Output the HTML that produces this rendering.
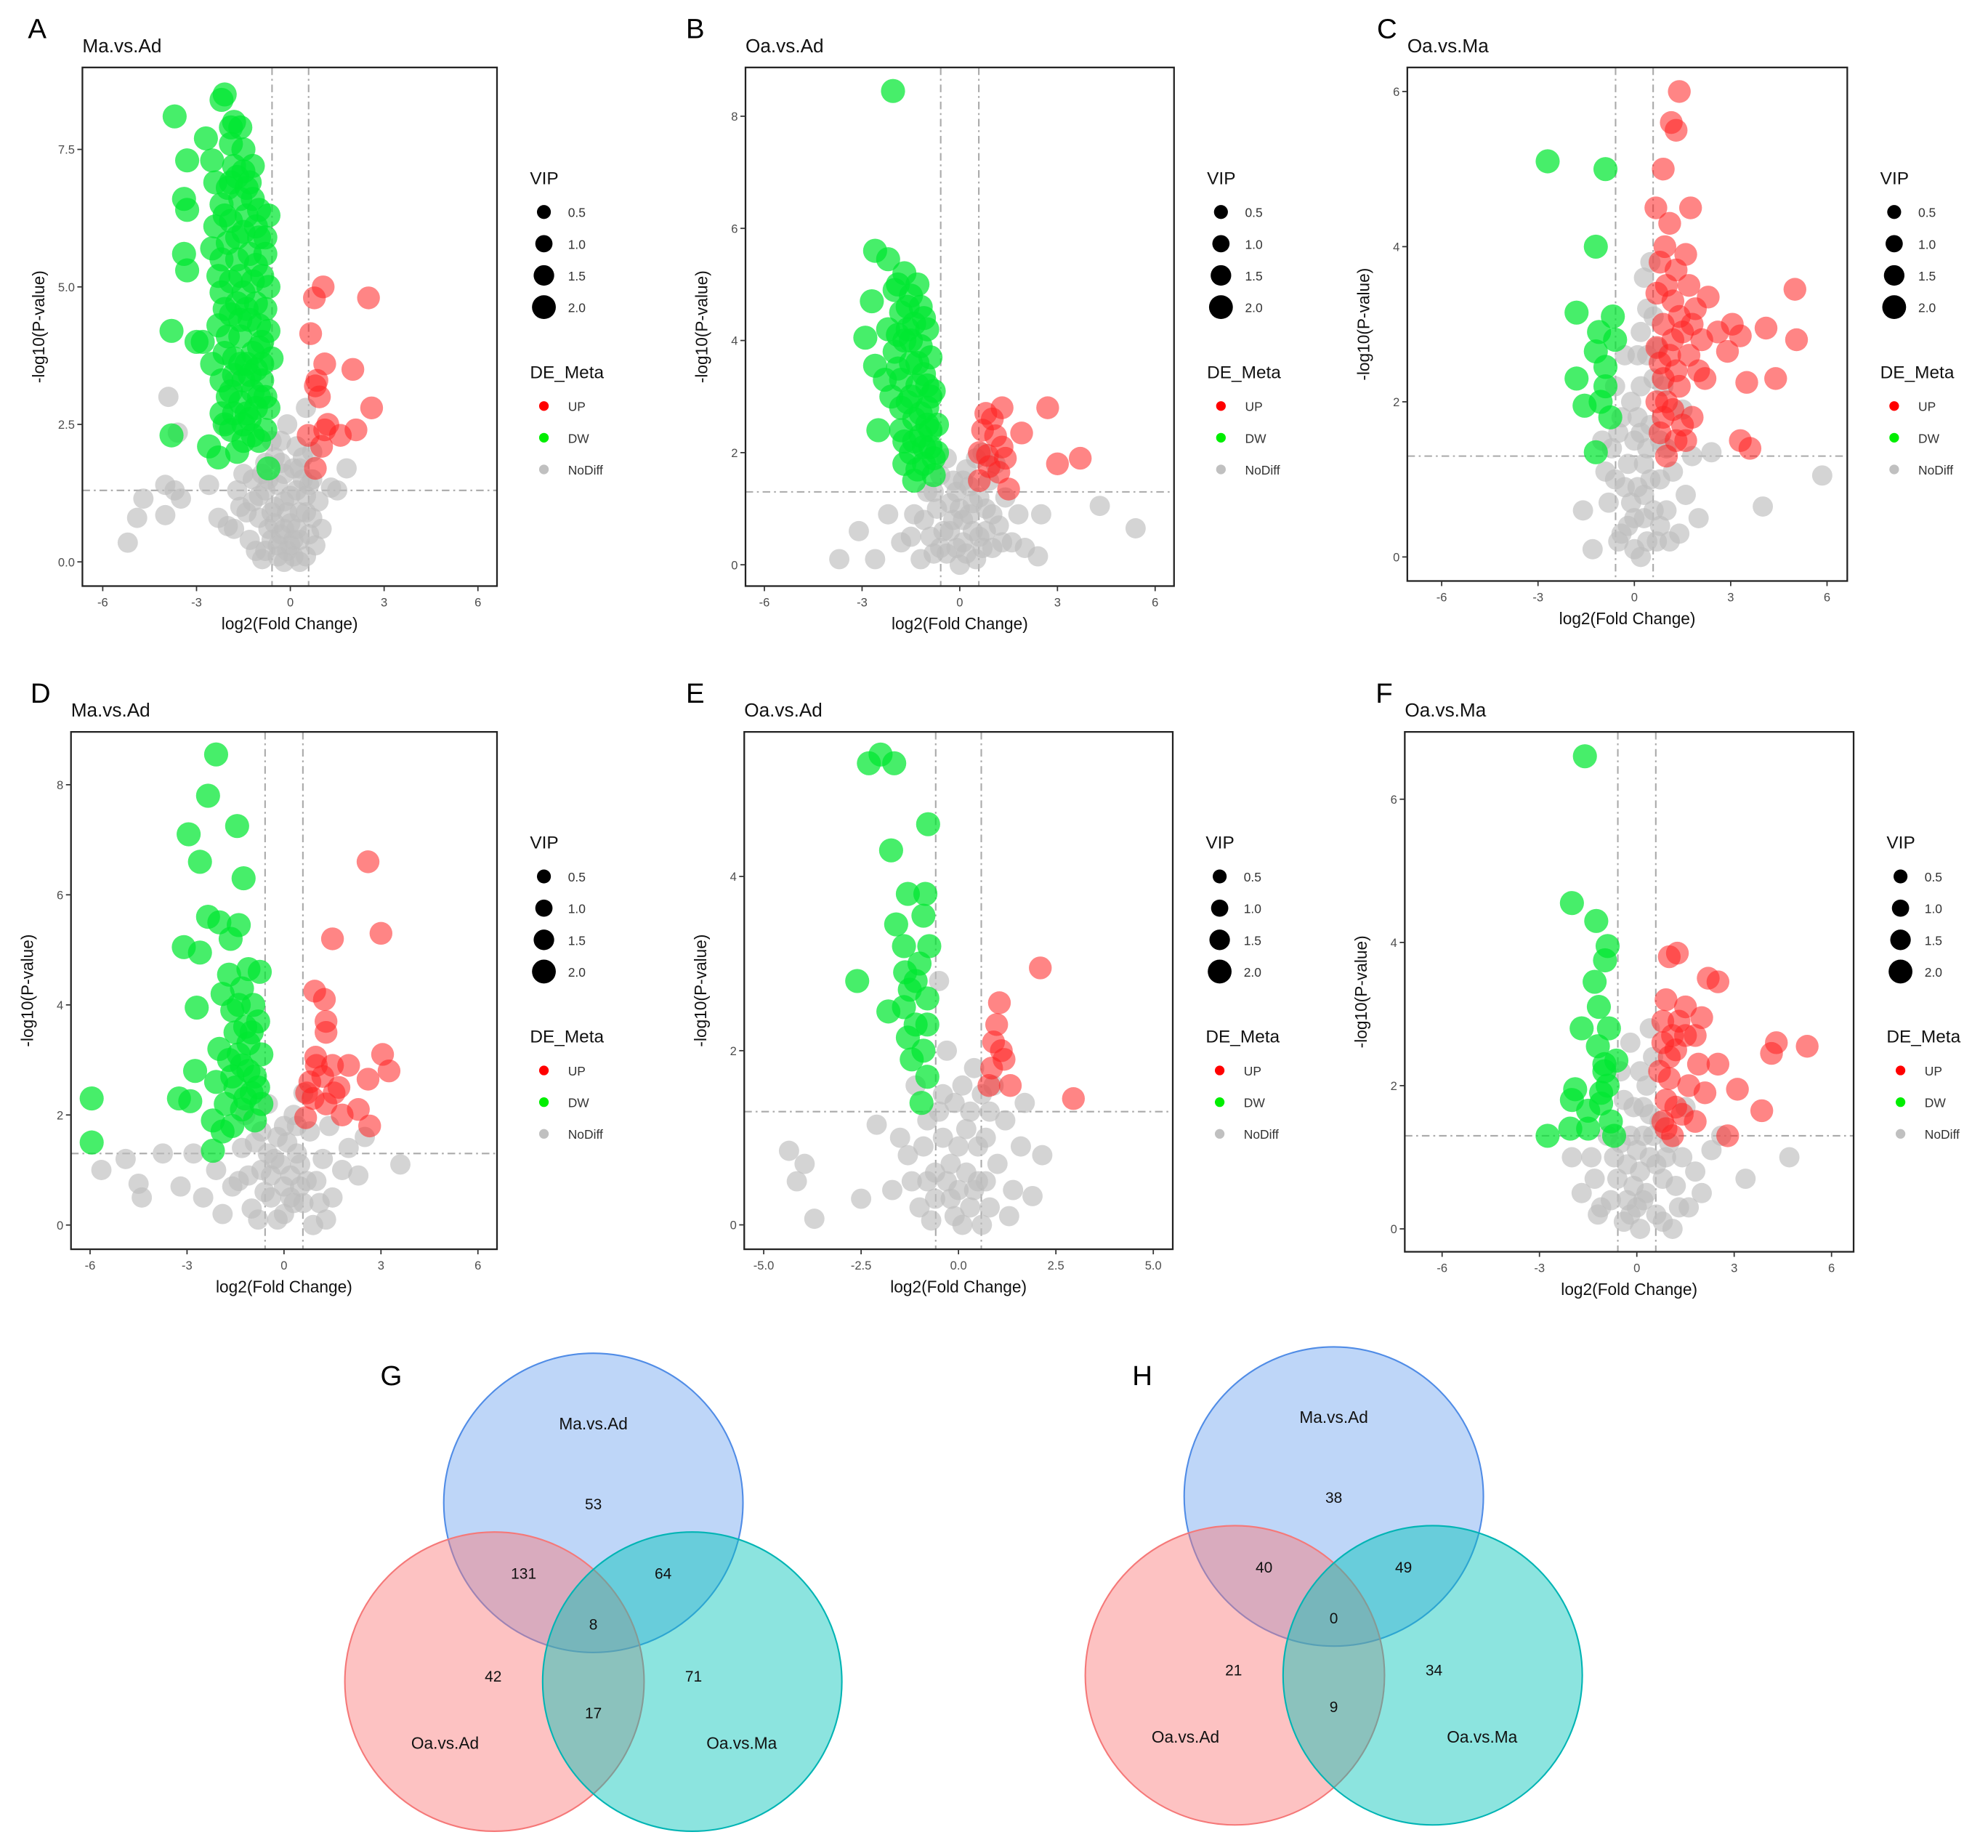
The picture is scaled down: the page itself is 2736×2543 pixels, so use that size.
<!DOCTYPE html>
<html><head><meta charset="utf-8">
<style>
html,body{margin:0;padding:0;background:#fff;}
svg{display:block;font-family:"Liberation Sans",Arial,sans-serif;}
</style></head>
<body>
<svg id="fig" width="2736" height="2543" viewBox="0 0 1568 1457" xmlns="http://www.w3.org/2000/svg"></svg>
<script>
// ---------- DATA ----------
const A_dw=[[-2.1,8.5],[-2.2,8.4],[-3.7,8.1],[-1.8,8.0],[-1.6,7.9],[-2.7,7.7],[-1.9,7.6],[-1.5,7.5],[-2.5,7.3],[-3.3,7.3],[-1.7,7.0],[-2.4,6.9],[-1.4,6.8],[-3.4,6.6],[-3.3,6.4],[-2.2,6.5],[-1.2,6.6],[-0.7,6.3],[-1.9,6.2],[-1.5,6.0],[-1.0,5.9],[-2.0,5.8],[-1.3,5.6],[-3.4,5.6],[-3.3,5.3],[-2.5,5.7],[-1.7,5.5],[-0.9,5.2],[-0.7,5.0],[-2.2,4.9],[-1.5,4.9],[-1.1,4.7],[-0.8,4.6],[-1.9,4.5],[-1.3,4.4],[-2.3,4.3],[-0.7,4.2],[-3.8,4.2],[-3.0,4.0],[-2.8,4.0],[-1.6,4.1],[-1.0,3.9],[-2.1,3.8],[-0.6,3.7],[-1.4,3.6],[-2.5,3.6],[-1.8,3.4],[-0.9,3.3],[-1.2,3.1],[-2.0,3.0],[-1.6,2.9],[-0.7,2.8],[-2.2,2.7],[-1.3,2.6],[-3.8,2.3],[-1.9,2.4],[-0.8,2.4],[-1.5,2.2],[-2.3,1.9],[-1.7,2.0],[-0.7,1.7],[-1.2,2.3],[-2.6,2.1],[-1.8,7.2],[-1.4,6.3],[-2.0,6.8],[-1.1,5.4],[-1.7,4.7],[-2.3,5.2],[-0.9,4.0],[-1.5,3.3],[-2.4,6.1],[-1.2,7.2],[-1.0,6.4],[-0.8,5.6],[-1.6,5.2],[-2.0,4.1],[-1.1,3.5],[-1.9,3.1],[-1.4,2.7],[-0.8,3.0],[-2.1,2.5],[-1.6,6.6],[-1.3,6.9],[-1.9,6.9],[-1.1,6.1],[-1.7,5.9],[-1.2,5.1],[-1.9,5.1],[-1.4,4.6],[-1.0,4.3],[-1.6,4.4],[-1.2,3.8],[-1.8,3.7],[-1.3,3.4],[-1.0,3.0],[-1.6,3.6],[-1.1,2.8],[-1.8,2.7],[-1.0,2.2],[-2.2,3.3],[-2.1,4.6],[-2.2,5.5],[-2.1,6.3],[-1.5,7.1],[-1.9,7.9],[-0.8,5.9],[-0.9,3.6],[-1.5,2.5]];
const A_up=[[1.05,5.0],[0.77,4.8],[2.5,4.8],[0.65,4.15],[1.1,3.6],[2.0,3.5],[0.85,3.3],[0.93,3.0],[0.8,3.2],[2.6,2.8],[1.2,2.5],[2.1,2.4],[0.57,2.3],[1.6,2.3],[1.1,2.4],[1.0,2.1],[0.8,1.7]];
const A_nd=[[-5.2,0.35],[-4.9,0.8],[-4.7,1.15],[-4.0,0.85],[-4.0,1.4],[-3.7,1.3],[-3.5,1.15],[-3.9,3.0],[-3.6,2.35],[-2.6,1.4],[-2.3,0.8],[-2.0,0.65],[-1.8,0.6],[1.8,1.7],[1.5,1.3],[1.3,1.35],[0.5,2.8],[0.7,0.8],[-0.6,2.2],[-1.2,1.5],[-1.0,1.2],[-0.8,1.8],[-0.5,1.0],[-0.3,0.5],[-0.1,0.2],[0.1,0.1],[0.3,0.4],[0.5,0.9],[0.6,1.4],[0.4,1.9],[0.2,2.1],[-0.2,1.6],[-0.4,0.3],[-0.7,0.6],[-1.1,0.2],[-1.4,0.9],[0.8,0.3],[0.9,1.1],[-0.9,0.05],[0.0,0.7],[-0.2,1.1],[0.2,1.3],[-0.5,1.9],[0.3,0.0],[-1.6,1.0],[-1.3,0.4],[0.7,2.0],[-0.1,2.5],[1.0,0.6],[-0.6,0.9],[0.1,1.7],[0.5,0.1],[-0.3,2.2],[-2.1,2.5],[-1.8,3.3],[-0.8,1.3],[-0.6,0.4],[-0.4,1.4],[-0.2,0.6],[0.0,1.2],[0.1,0.4],[0.3,0.9],[0.4,1.5],[-0.5,0.7],[-0.3,1.8],[-1.0,0.8],[-0.8,0.2],[-0.1,0.9],[0.2,0.6],[0.6,0.5],[-1.2,1.1],[-0.7,1.5],[0.0,0.3],[-0.4,0.1],[0.5,1.2],[-0.9,1.6],[-1.5,1.6],[-1.7,1.3],[-0.2,0.0],[0.7,1.5],[0.3,1.7]];

const B_dw=[[-2.05,8.45],[-2.6,5.6],[-2.2,5.45],[-1.7,5.2],[-2.7,4.7],[-2.9,4.05],[-2.6,3.55],[-2.5,2.4],[-2.0,4.9],[-1.5,4.8],[-1.2,4.6],[-1.8,4.5],[-1.4,4.3],[-1.0,4.2],[-2.2,4.2],[-1.7,4.0],[-1.2,3.9],[-0.9,3.7],[-2.0,3.8],[-1.5,3.6],[-1.1,3.4],[-1.8,3.3],[-1.3,3.2],[-0.8,3.1],[-2.1,3.0],[-1.6,2.9],[-1.0,2.8],[-1.4,2.6],[-0.7,2.5],[-1.8,2.4],[-1.2,2.3],[-0.9,2.1],[-1.5,2.0],[-1.1,1.8],[-0.8,1.6],[-1.3,1.7],[-1.6,4.6],[-1.9,5.0],[-1.3,5.0],[-2.3,3.3],[-1.0,2.5],[-1.7,2.2],[-0.7,2.0],[-1.4,1.5],[-1.6,4.2],[-1.3,3.6],[-1.9,3.5],[-1.0,3.2],[-1.5,3.0],[-1.2,2.7],[-1.8,2.8],[-0.9,2.4],[-1.4,2.2],[-1.1,2.1],[-1.7,1.8],[-0.8,1.9],[-1.9,4.1],[-1.5,4.0],[-1.1,4.4],[-0.9,3.0]];
const B_up=[[1.0,2.6],[2.7,2.8],[1.9,2.35],[3.0,1.8],[3.7,1.9],[0.7,2.4],[1.3,2.1],[0.85,1.95],[1.2,1.65],[1.5,1.35],[0.6,1.5],[0.9,1.75],[0.6,2.0],[1.1,2.3],[1.4,1.9],[0.8,2.7],[1.3,2.8]];
const B_nd=[[-3.7,0.1],[-3.1,0.6],[-2.6,0.1],[4.3,1.05],[5.4,0.65],[2.4,0.15],[-2.2,0.9],[2.5,0.9],[-1.8,0.4],[-1.4,0.9],[-1.0,1.3],[-0.8,0.2],[-0.5,0.6],[-0.3,1.1],[-0.1,0.3],[0.1,0.8],[0.3,1.4],[0.5,0.1],[0.6,0.5],[0.8,1.0],[1.0,0.3],[1.2,0.7],[1.4,1.2],[1.6,0.4],[-0.6,1.6],[0.2,1.7],[0.5,1.9],[-1.2,0.1],[0.0,0.0],[-0.2,0.8],[0.9,1.5],[1.8,0.9],[-0.9,0.5],[0.4,0.6],[-0.4,1.9],[1.1,1.8],[-1.5,0.5],[2.0,0.3],[0.7,2.0],[-0.7,1.0],[-0.4,0.2],[-0.1,1.3],[0.1,0.4],[0.3,0.9],[0.6,1.2],[0.8,0.6],[-0.3,0.6],[0.0,1.0],[0.2,0.2],[-0.6,0.3],[0.4,1.1],[1.0,0.9],[-1.1,0.8],[0.7,0.3],[-0.2,1.5],[1.3,0.4],[-0.8,1.3],[0.1,1.5]];

const C_dw=[[-2.7,5.1],[-0.9,5.0],[-1.2,4.0],[-1.8,3.15],[-0.67,3.1],[-1.1,2.9],[-1.2,2.65],[-1.8,2.3],[-0.9,2.45],[-1.55,1.95],[-0.9,2.2],[-1.2,1.35],[-0.75,1.8],[-1.05,2.0],[-0.6,2.8]];
const C_up=[[1.4,6.0],[1.15,5.6],[1.3,5.5],[0.9,5.0],[1.75,4.5],[0.67,4.5],[1.1,4.3],[0.95,4.0],[5.0,3.45],[2.3,3.35],[3.05,3.0],[4.1,2.95],[3.3,2.85],[5.05,2.8],[2.9,2.65],[4.4,2.3],[3.5,2.25],[2.2,2.3],[3.3,1.5],[3.6,1.4],[0.8,3.8],[1.3,3.7],[1.7,3.5],[0.7,3.4],[1.2,3.3],[1.9,3.2],[0.9,3.0],[1.5,2.9],[2.1,2.8],[0.7,2.7],[1.1,2.6],[1.7,2.6],[0.9,2.3],[1.4,2.2],[0.7,2.0],[1.2,1.9],[1.8,1.8],[0.8,1.6],[1.3,1.5],[2.6,2.9],[1.6,3.9],[2.0,2.4],[1.0,1.3],[1.6,1.5],[1.0,3.5],[1.4,3.1],[0.8,2.5],[1.3,2.4],[1.0,2.0],[1.5,1.7],[0.9,1.8],[1.2,2.8],[1.8,3.0]];
const C_nd=[[5.85,1.05],[4.0,0.65],[-1.3,0.1],[2.4,1.35],[-1.0,1.5],[-0.8,0.7],[-0.6,2.2],[-0.4,0.3],[-0.2,1.2],[0.0,0.1],[0.1,1.8],[0.3,0.5],[0.4,2.6],[0.5,1.0],[0.6,3.1],[0.7,0.2],[0.8,1.5],[0.9,2.2],[1.0,0.6],[1.2,1.1],[1.4,0.3],[1.6,0.8],[1.8,1.3],[-0.5,1.6],[0.2,2.9],[0.3,3.6],[0.5,3.8],[-0.1,0.7],[0.2,0.0],[1.1,0.2],[-0.3,2.6],[0.4,1.4],[2.0,0.5],[-1.6,0.6],[0.7,2.7],[-0.9,1.1],[1.5,1.9],[-0.6,1.0],[-0.4,1.8],[-0.2,0.4],[0.0,1.5],[0.1,0.9],[0.2,2.2],[0.3,1.2],[0.4,0.2],[0.5,1.7],[0.6,0.6],[0.8,1.0],[-0.1,2.0],[0.0,0.5],[0.2,1.6],[-0.3,0.9],[0.6,2.3],[0.4,3.2],[0.1,2.6],[-0.5,0.2],[1.0,1.4],[0.3,0.8],[-0.7,1.4],[0.8,0.4]];

const D_dw=[[-2.1,8.55],[-2.35,7.8],[-1.45,7.25],[-2.95,7.1],[-2.6,6.6],[-1.25,6.3],[-2.35,5.6],[-2.0,5.5],[-1.4,5.45],[-3.1,5.05],[-2.6,4.95],[-1.65,5.2],[-1.7,4.55],[-1.1,4.65],[-0.75,4.6],[-2.7,3.95],[-1.6,3.9],[-0.95,4.0],[-2.75,2.8],[-3.25,2.3],[-2.9,2.25],[-5.95,2.3],[-5.95,1.5],[-2.2,1.35],[-1.9,4.2],[-1.3,4.3],[-0.8,3.7],[-1.5,3.5],[-1.1,3.3],[-2.0,3.2],[-0.7,3.1],[-1.7,3.0],[-1.3,2.9],[-0.9,2.7],[-2.1,2.6],[-1.5,2.5],[-1.0,2.4],[-0.7,2.2],[-1.8,2.2],[-1.3,2.1],[-2.2,1.9],[-0.9,1.9],[-1.6,1.8],[-1.2,3.6],[-1.9,1.7],[-1.4,3.1],[-1.1,2.8],[-1.6,2.7],[-1.0,3.5],[-1.4,4.0],[-0.8,2.5],[-1.2,2.3]];
const D_up=[[2.6,6.6],[3.0,5.3],[1.5,5.2],[0.95,4.25],[1.25,4.1],[1.3,3.7],[1.3,3.5],[0.98,3.05],[2.0,2.9],[3.05,3.1],[3.25,2.8],[2.6,2.65],[1.55,2.4],[2.3,2.1],[2.65,1.8],[0.67,1.95],[0.8,2.6],[1.2,2.7],[1.5,2.9],[0.9,2.3],[1.3,2.2],[1.7,2.5],[1.0,2.9],[0.7,2.4],[1.8,2.0]];
const D_nd=[[-5.65,1.0],[-4.9,1.2],[-4.5,0.75],[-3.75,1.3],[-4.4,0.5],[-3.2,0.7],[3.6,1.1],[2.3,0.9],[1.3,0.1],[-1.9,0.2],[-2.5,0.5],[-2.1,1.0],[-1.6,0.7],[-1.3,1.4],[-1.0,0.3],[-0.7,1.0],[-0.4,0.5],[-0.2,1.6],[0.0,0.2],[0.2,0.9],[0.4,1.3],[0.6,0.4],[0.8,1.7],[1.0,0.8],[1.2,1.2],[1.5,0.5],[1.8,1.0],[2.0,1.4],[-0.5,2.2],[0.3,2.0],[0.6,2.4],[-1.2,2.0],[-0.8,0.1],[0.9,0.0],[2.5,1.6],[-2.8,1.3],[1.4,1.8],[-0.1,1.1],[0.5,0.7],[-1.1,0.9],[-0.9,1.5],[-0.6,0.6],[-0.3,1.2],[0.0,0.7],[0.1,1.5],[0.3,0.4],[0.5,1.1],[0.7,0.8],[-0.4,0.9],[-0.2,0.1],[0.2,0.5],[-0.7,1.7],[-1.4,0.8],[0.4,1.8],[-0.5,1.3],[1.1,0.4],[0.0,1.8]];

const E_dw=[[-2.0,5.4],[-2.3,5.3],[-1.65,5.3],[-0.78,4.6],[-1.73,4.3],[-1.3,3.8],[-0.85,3.8],[-0.9,3.55],[-1.6,3.45],[-0.75,3.2],[-2.6,2.8],[-1.37,2.9],[-1.25,2.7],[-1.8,2.45],[-1.0,3.0],[-1.4,2.5],[-0.8,2.6],[-1.1,2.3],[-0.9,2.0],[-1.2,1.9],[-0.8,1.7],[-0.95,1.4],[-1.1,2.8],[-1.4,3.2],[-0.8,2.3],[-1.3,2.15]];
const E_up=[[2.1,2.95],[2.95,1.45],[1.05,2.55],[0.98,2.3],[1.1,2.0],[1.17,1.9],[1.33,1.6],[0.78,1.6],[0.85,1.8],[0.9,2.1]];
const E_nd=[[-4.35,0.85],[-4.15,0.5],[-3.95,0.7],[-3.7,0.07],[-2.5,0.3],[-2.1,1.15],[2.15,0.8],[1.9,0.33],[-1.7,0.4],[-1.3,0.8],[-1.0,0.2],[-0.8,1.2],[-0.6,0.6],[-0.4,1.5],[-0.2,0.3],[0.0,0.9],[0.1,0.0],[0.3,1.3],[0.5,0.5],[0.7,1.0],[0.8,0.2],[1.0,0.7],[1.2,1.2],[1.4,0.4],[1.6,0.9],[-0.5,2.8],[-0.3,2.0],[0.4,1.8],[0.6,1.5],[-1.1,1.6],[1.3,0.1],[-0.1,1.4],[0.2,0.6],[-0.7,0.05],[0.9,1.6],[1.7,1.4],[-1.5,1.0],[-0.9,0.9],[-0.6,0.3],[-0.4,1.0],[-0.2,0.7],[0.0,0.4],[0.2,1.1],[0.3,0.2],[0.5,0.9],[0.7,0.5],[-0.3,0.5],[0.1,1.6],[-0.5,1.3],[0.4,0.4],[0.8,1.3],[-0.1,0.1],[-0.8,0.5],[0.6,0.0],[-1.2,0.5]];

const F_dw=[[-1.6,6.6],[-2.0,4.55],[-1.25,4.3],[-0.9,3.95],[-0.98,3.75],[-1.3,3.45],[-1.17,3.1],[-1.7,2.8],[-0.86,2.8],[-1.2,2.55],[-1.0,2.3],[-0.63,2.35],[-1.9,1.95],[-2.0,1.8],[-0.9,2.0],[-1.1,1.75],[-2.75,1.3],[-2.05,1.4],[-1.5,1.4],[-1.5,1.65],[-0.8,1.5],[-1.0,2.2],[-0.7,1.3],[-1.1,1.9]];
const F_up=[[1.0,3.8],[1.25,3.85],[2.2,3.5],[2.5,3.45],[4.3,2.6],[5.25,2.55],[4.15,2.45],[3.85,1.65],[2.8,1.3],[3.1,1.95],[2.5,2.3],[2.0,2.95],[1.5,2.7],[0.9,3.2],[1.3,2.9],[1.8,2.7],[0.8,2.6],[1.2,2.5],[0.7,2.2],[1.0,2.1],[1.6,2.0],[2.1,1.9],[0.9,1.8],[1.4,1.6],[0.8,1.5],[1.8,1.5],[1.1,1.3],[1.9,2.3],[1.5,3.1],[0.8,2.9],[1.0,2.4],[1.2,1.7],[0.9,1.4],[1.1,2.7]];
const F_nd=[[4.7,1.0],[3.35,0.7],[-1.7,0.5],[-1.4,1.0],[-1.1,0.3],[-0.9,1.3],[-0.6,0.7],[-0.4,1.8],[-0.2,0.2],[0.0,1.1],[0.2,0.4],[0.4,1.6],[0.5,2.4],[0.6,0.9],[0.8,0.1],[1.0,1.2],[1.2,0.6],[1.4,1.0],[1.6,0.3],[1.8,0.8],[2.0,0.5],[2.3,1.1],[-0.5,2.2],[0.3,2.0],[-1.2,0.2],[0.1,0.0],[-0.3,0.9],[0.7,1.5],[1.1,0.0],[-0.8,0.4],[2.6,1.3],[-2.0,1.0],[0.4,2.8],[0.2,1.3],[-0.1,1.7],[1.5,1.7],[-0.5,1.2],[-0.3,0.4],[-0.1,0.6],[0.1,0.8],[0.3,0.5],[0.5,1.3],[0.6,0.2],[0.8,0.7],[-0.2,1.3],[0.0,0.3],[0.2,1.7],[-0.4,0.1],[0.4,1.0],[0.9,1.0],[-0.7,1.0],[0.1,2.2],[-0.2,2.6],[1.3,0.3],[-1.3,0.7]];

const ticks6=[-6,-3,0,3,6];
const ticks6Labels=['-6','-3','0','3','6'];
const ticksE=[-5,-2.5,0,2.5,5];
const ticksELabels=['-5.0','-2.5','0.0','2.5','5.0'];
const yTicksA=[0,2.5,5,7.5]; const yLabelsA=['0.0','2.5','5.0','7.5'];
const yTicksB=[0,2,4,6,8];   const yLabelsB=['0','2','4','6','8'];
const yTicksC=[0,2,4,6];     const yLabelsC=['0','2','4','6'];
const yTicksD=[0,2,4,6,8];   const yLabelsD=['0','2','4','6','8'];
const yTicksE=[0,2,4];       const yLabelsE=['0','2','4'];
const yTicksF=[0,2,4,6];     const yLabelsF=['0','2','4','6'];
const fcThreshold=0.585, pThreshold=1.3;
const vipLevels=['0.5','1.0','1.5','2.0'];

const vennSets=['Ma.vs.Ad','Oa.vs.Ad','Oa.vs.Ma'];
const vennG=[53,131,64,8,42,71,17];
const vennH=[38,40,49,0,21,34,9];

// ---------- DRAW ----------
const NS='http://www.w3.org/2000/svg';
const svg=document.getElementById('fig');
function mk(tag,attrs,parent){const e=document.createElementNS(NS,tag);for(const k in attrs)e.setAttribute(k,attrs[k]);(parent||svg).appendChild(e);return e;}
function txt(s,attrs,parent){const e=mk('text',attrs,parent);e.textContent=s;return e;}

const panels=[
 {L:'A',t:'Ma.vs.Ad',box:[65,53,392,462],xd:[-6.65,6.61],yd:[-0.44,8.99],xt:ticks6,xl:ticks6Labels,yt:yTicksA,yl:yLabelsA,up:A_up,dw:A_dw,nd:A_nd,lx:22},
 {L:'B',t:'Oa.vs.Ad',box:[588,53,926,462],xd:[-6.58,6.58],yd:[-0.38,8.87],xt:ticks6,xl:ticks6Labels,yt:yTicksB,yl:yLabelsB,up:B_up,dw:B_dw,nd:B_nd,lx:541},
 {L:'C',t:'Oa.vs.Ma',box:[1110,53,1457,458],xd:[-7.07,6.63],yd:[-0.31,6.31],xt:ticks6,xl:ticks6Labels,yt:yTicksC,yl:yLabelsC,up:C_up,dw:C_dw,nd:C_nd,lx:1086},
 {L:'D',t:'Ma.vs.Ad',box:[56,577,392,985],xd:[-6.59,6.59],yd:[-0.44,8.96],xt:ticks6,xl:ticks6Labels,yt:yTicksD,yl:yLabelsD,up:D_up,dw:D_dw,nd:D_nd,lx:24},
 {L:'E',t:'Oa.vs.Ad',box:[587,577,925,985],xd:[-5.5,5.5],yd:[-0.28,5.66],xt:ticksE,xl:ticksELabels,yt:yTicksE,yl:yLabelsE,up:E_up,dw:E_dw,nd:E_nd,lx:541},
 {L:'F',t:'Oa.vs.Ma',box:[1108,577,1462,987],xd:[-7.15,6.68],yd:[-0.32,6.94],xt:ticks6,xl:ticks6Labels,yt:yTicksF,yl:yLabelsF,up:F_up,dw:F_dw,nd:F_nd,lx:1085}
];

panels.forEach(p=>{
  const [x0,y0,x1,y1]=p.box;
  const g=mk('g',{});
  
  
  const sx=v=>x0+(v-p.xd[0])/(p.xd[1]-p.xd[0])*(x1-x0);
  const sy=v=>y1-(v-p.yd[0])/(p.yd[1]-p.yd[0])*(y1-y0);
  const lt=txt(p.L,{x:p.lx,y:p.box[1]-23,'font-size':22,fill:'#000'},g);
  
  
  const tt=txt(p.t,{x:x0,y:y0-12,'font-size':15,fill:'#111'},g);
  
  
  [-fcThreshold,fcThreshold].forEach(v=>{
    const l=mk('line',{x1:sx(v),x2:sx(v),y1:y0,y2:y1,stroke:'#aaa','stroke-width':1.2,'stroke-dasharray':'6,3,1.5,3'},g);
    
    
  });
  const hl=mk('line',{x1:x0,x2:x1,y1:sy(pThreshold),y2:sy(pThreshold),stroke:'#aaa','stroke-width':1.2,'stroke-dasharray':'6,3,1.5,3'},g);
  
  
  const clip='clip'+p.L;
  const cp=mk('clipPath',{id:clip},g); mk('rect',{x:x0,y:y0,width:x1-x0,height:y1-y0},cp);
  const pg=mk('g',{'clip-path':'url(#'+clip+')'},g);
  p.nd.forEach(d=>{const c=mk('circle',{cx:sx(d[0]),cy:sy(d[1]),r:8,fill:'#bdbdbd','fill-opacity':0.65},pg);
    
    });
  p.up.forEach(d=>{const c=mk('circle',{cx:sx(d[0]),cy:sy(d[1]),r:9,fill:'#ff2020','fill-opacity':0.55},pg);
    
    });
  p.dw.forEach(d=>{const c=mk('circle',{cx:sx(d[0]),cy:sy(d[1]),r:9.5,fill:'#00e830','fill-opacity':0.72},pg);
    
    });
  const fr=mk('rect',{x:x0,y:y0,width:x1-x0,height:y1-y0,fill:'none',stroke:'#222','stroke-width':1.3},g);
  
  
  p.xt.forEach((v,i)=>{
    mk('line',{x1:sx(v),x2:sx(v),y1:y1,y2:y1+4,stroke:'#333','stroke-width':1},g);
    const t=txt(p.xl[i],{x:sx(v),y:y1+16,'font-size':9.5,fill:'#4d4d4d','text-anchor':'middle'},g);
    
    
  });
  p.yt.forEach((v,i)=>{
    mk('line',{x1:x0-4,x2:x0,y1:sy(v),y2:sy(v),stroke:'#333','stroke-width':1},g);
    const t=txt(p.yl[i],{x:x0-6,y:sy(v)+3.5,'font-size':9.5,fill:'#4d4d4d','text-anchor':'end'},g);
    
    
  });
  const xt=txt('log2(Fold Change)',{x:(x0+x1)/2,y:y1+34,'font-size':13,fill:'#111','text-anchor':'middle'},g);
  
  
  const yc=(y0+y1)/2;
  const yt=txt('-log10(P-value)',{x:x0-30,y:yc,'font-size':13,fill:'#111','text-anchor':'middle',transform:'rotate(-90 '+(x0-30)+' '+yc+')'},g);
  
  
  const lx=x1+26, ly=y0;
  const lg=mk('g',{},g);
  
  
  txt('VIP',{x:lx,y:ly+92,'font-size':14,fill:'#111'},lg);
  vipLevels.forEach((s,i)=>{
    mk('circle',{cx:lx+11,cy:ly+114+25*i,r:5.5+1.3*i,fill:'#000'},lg);
    const t=txt(s,{x:lx+30,y:ly+118+25*i,'font-size':10,fill:'#333'},lg);
    
    
  });
  txt('DE_Meta',{x:lx,y:ly+245,'font-size':14,fill:'#111'},lg);
  [['UP','#ff0000'],['DW','#00ee00'],['NoDiff','#c0c0c0']].forEach((d,i)=>{
    mk('circle',{cx:lx+11,cy:ly+267+25*i,r:3.8,fill:d[1]},lg);
    const t=txt(d[0],{x:lx+30,y:ly+271+25*i,'font-size':10,fill:'#333'},lg);
    
    
  });
});

const venns=[
 {L:'G',vals:vennG,cx:468,cy:1185,lx:300,ly:1092},
 {L:'H',vals:vennH,cx:1052,cy:1180,lx:893,ly:1092}
];
venns.forEach(v=>{
  const g=mk('g',{});
  
  
  const r=118, dx=78, dy=141;
  const lt=txt(v.L,{x:v.lx,y:v.ly,'font-size':22,fill:'#000'},g);
  
  
  const circ=[[v.cx,v.cy,'rgb(110,165,240)','rgb(80,140,230)'],[v.cx-dx,v.cy+dy,'rgb(250,120,120)','rgb(245,120,120)'],[v.cx+dx,v.cy+dy,'rgb(0,195,185)','rgb(0,180,180)']];
  circ.forEach((c,i)=>{
    const e=mk('circle',{cx:c[0],cy:c[1],r:r,fill:c[2],'fill-opacity':0.45,stroke:c[3],'stroke-width':1.2},g);
    
    
  });
  const pos=[[0,1],[-55,56],[55,56],[0,96],[-79,137],[79,137],[0,166]];
  v.vals.forEach((n,i)=>{
    const t=txt(String(n),{x:v.cx+pos[i][0],y:v.cy+pos[i][1]+4,'font-size':12,fill:'#111','text-anchor':'middle'},g);
    
    
  });
  const lp=[[0,-63],[-117,189],[117,189]];
  vennSets.forEach((s,i)=>{
    const t=txt(s,{x:v.cx+lp[i][0],y:v.cy+lp[i][1]+5,'font-size':13,fill:'#111','text-anchor':'middle'},g);
    
    
  });
});
</script>
</body></html>
